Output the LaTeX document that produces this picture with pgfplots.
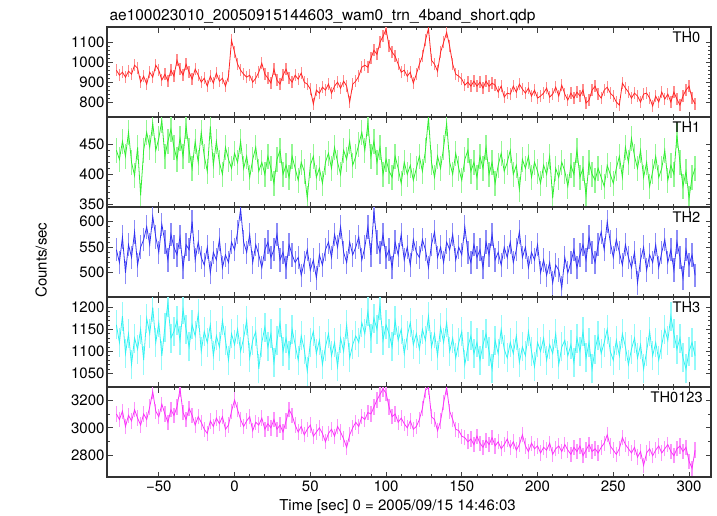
\documentclass[border=0pt]{standalone}
\usepackage{fontspec}
\setmainfont{TeX Gyre Heros}
\usepackage{pgfplots}
\usepackage{pgfplotstable}
\pgfplotsset{compat=1.18}
\definecolor{c0}{rgb}{1,0.15,0.15}
\definecolor{c1}{rgb}{0.2,0.93,0.2}
\definecolor{c2}{rgb}{0.2,0.2,0.95}
\definecolor{c3}{rgb}{0.2,0.95,0.95}
\definecolor{c4}{rgb}{0.98,0.2,0.98}
\definecolor{e0}{rgb}{1,0.55,0.55}
\definecolor{e1}{rgb}{0.58,0.97,0.58}
\definecolor{e2}{rgb}{0.55,0.55,0.97}
\definecolor{e3}{rgb}{0.58,0.98,0.98}
\definecolor{e4}{rgb}{0.99,0.58,0.99}
\newcommand\lab{\fontsize{15bp}{18bp}\selectfont}
\newcommand\thlab{\fontsize{14.6bp}{17bp}\selectfont}

\pgfplotstableread[row sep=\\]{t v\\
-78 960\\ -76 935\\ -74 950\\ -72 925\\ -70 955\\ -68 940\\ -66 985\\ -64 970\\ -62 900\\ -60 930\\
-58 890\\ -56 950\\ -54 925\\ -52 985\\ -50 960\\ -48 910\\ -46 940\\ -44 905\\ -42 960\\ -40 930\\
-38 1010\\ -36 965\\ -34 935\\ -32 990\\ -30 950\\ -28 915\\ -26 965\\ -24 935\\ -22 900\\ -20 920\\
-18 880\\ -16 930\\ -14 895\\ -12 945\\ -10 905\\ -8 920\\ -6 880\\ -4 930\\ -2 1110\\ 0 1050\\
2 990\\ 4 960\\ 6 940\\ 8 925\\ 10 935\\ 12 900\\ 14 920\\ 16 950\\ 18 995\\ 20 940\\
22 920\\ 24 895\\ 26 965\\ 28 910\\ 30 890\\ 32 935\\ 34 965\\ 36 920\\ 38 900\\ 40 935\\
42 915\\ 44 945\\ 46 900\\ 48 890\\ 50 865\\ 52 790\\ 54 860\\ 56 845\\ 58 875\\ 60 860\\
62 890\\ 64 845\\ 66 880\\ 68 900\\ 70 870\\ 72 905\\ 74 880\\ 76 800\\ 78 890\\ 80 905\\
82 930\\ 84 975\\ 86 985\\ 88 975\\ 90 1020\\ 92 1060\\ 94 1040\\ 96 1100\\ 98 1130\\ 100 1165\\
102 1080\\ 104 1050\\ 106 1030\\ 108 990\\ 110 950\\ 112 960\\ 114 930\\ 116 950\\ 118 895\\ 120 940\\
122 990\\ 124 1030\\ 126 1110\\ 128 1170\\ 130 1010\\ 132 990\\ 134 955\\ 136 1050\\ 138 1100\\ 140 1150\\
142 1080\\ 144 990\\ 146 940\\ 148 930\\ 150 915\\ 152 885\\ 154 900\\ 156 880\\ 158 905\\ 160 880\\
162 900\\ 164 870\\ 166 905\\ 168 880\\ 170 895\\ 172 885\\ 174 850\\ 176 880\\ 178 825\\ 180 845\\
182 840\\ 184 880\\ 186 850\\ 188 890\\ 190 865\\ 192 845\\ 194 870\\ 196 830\\ 198 860\\ 200 820\\
202 830\\ 204 845\\ 206 870\\ 208 825\\ 210 840\\ 212 875\\ 214 830\\ 216 885\\ 218 840\\ 220 810\\
222 845\\ 224 820\\ 226 850\\ 228 830\\ 230 860\\ 232 795\\ 234 810\\ 236 860\\ 238 880\\ 240 840\\
242 820\\ 244 860\\ 246 875\\ 248 845\\ 250 830\\ 252 800\\ 254 785\\ 256 895\\ 258 870\\ 260 850\\
262 820\\ 264 845\\ 266 830\\ 268 800\\ 270 840\\ 272 845\\ 274 820\\ 276 780\\ 278 830\\ 280 800\\
282 850\\ 284 815\\ 286 840\\ 288 800\\ 290 850\\ 292 815\\ 294 785\\ 296 830\\ 298 860\\ 300 880\\
302 820\\ 304 790\\
}\tA

\pgfplotstableread[row sep=\\]{t v\\
-78 440\\ -76 425\\ -74 455\\ -72 430\\ -70 470\\ -68 420\\ -66 398\\ -64 445\\ -62 365\\ -60 440\\
-58 470\\ -56 445\\ -54 485\\ -52 440\\ -50 460\\ -48 490\\ -46 430\\ -44 455\\ -42 475\\ -40 445\\
-38 425\\ -36 460\\ -34 430\\ -32 480\\ -30 440\\ -28 410\\ -26 455\\ -24 420\\ -22 470\\ -20 430\\
-18 405\\ -16 480\\ -14 415\\ -12 455\\ -10 420\\ -8 400\\ -6 445\\ -4 425\\ -2 410\\ 0 435\\
2 420\\ 4 455\\ 6 410\\ 8 430\\ 10 395\\ 12 425\\ 14 445\\ 16 405\\ 18 420\\ 20 400\\
22 430\\ 24 410\\ 26 385\\ 28 425\\ 30 440\\ 32 400\\ 34 415\\ 36 395\\ 38 430\\ 40 410\\
42 390\\ 44 420\\ 46 405\\ 48 360\\ 50 415\\ 52 430\\ 54 395\\ 56 410\\ 58 385\\ 60 420\\
62 435\\ 64 410\\ 66 445\\ 68 420\\ 70 400\\ 72 440\\ 74 425\\ 76 455\\ 78 415\\ 80 430\\
82 450\\ 84 470\\ 86 440\\ 88 485\\ 90 430\\ 92 455\\ 94 420\\ 96 445\\ 98 400\\ 100 425\\
102 405\\ 104 395\\ 106 430\\ 108 410\\ 110 385\\ 112 420\\ 114 400\\ 116 415\\ 118 390\\ 120 410\\
122 430\\ 124 405\\ 126 440\\ 128 495\\ 130 420\\ 132 395\\ 134 430\\ 136 410\\ 138 445\\ 140 485\\
142 420\\ 144 400\\ 146 435\\ 148 410\\ 150 390\\ 152 425\\ 154 440\\ 156 405\\ 158 420\\ 160 395\\
162 430\\ 164 410\\ 166 445\\ 168 400\\ 170 420\\ 172 385\\ 174 415\\ 176 435\\ 178 405\\ 180 420\\
182 440\\ 184 400\\ 186 415\\ 188 375\\ 190 425\\ 192 410\\ 194 430\\ 196 395\\ 198 420\\ 200 405\\
202 385\\ 204 415\\ 206 400\\ 208 430\\ 210 360\\ 212 410\\ 214 395\\ 216 420\\ 218 405\\ 220 380\\
222 415\\ 224 400\\ 226 440\\ 228 395\\ 230 410\\ 232 365\\ 234 420\\ 236 400\\ 238 390\\ 240 410\\
242 395\\ 244 380\\ 246 415\\ 248 400\\ 250 385\\ 252 410\\ 254 430\\ 256 395\\ 258 445\\ 260 420\\
262 460\\ 264 430\\ 266 410\\ 268 440\\ 270 395\\ 272 420\\ 274 380\\ 276 405\\ 278 430\\ 280 395\\
282 410\\ 284 440\\ 286 390\\ 288 415\\ 290 400\\ 292 465\\ 294 420\\ 296 380\\ 298 405\\ 300 360\\
302 395\\ 304 410\\
}\tB

\pgfplotstableread[row sep=\\]{t v\\
-78 545\\ -76 520\\ -74 570\\ -72 500\\ -70 555\\ -68 530\\ -66 580\\ -64 515\\ -62 550\\ -60 565\\
-58 590\\ -56 555\\ -54 610\\ -52 570\\ -50 540\\ -48 595\\ -46 560\\ -44 525\\ -42 575\\ -40 550\\
-38 535\\ -36 570\\ -34 510\\ -32 555\\ -30 545\\ -28 600\\ -26 525\\ -24 560\\ -22 530\\ -20 515\\
-18 550\\ -16 500\\ -14 540\\ -12 525\\ -10 565\\ -8 510\\ -6 535\\ -4 520\\ -2 560\\ 0 545\\
2 580\\ 4 625\\ 6 560\\ 8 540\\ 10 575\\ 12 520\\ 14 555\\ 16 535\\ 18 510\\ 20 545\\
22 560\\ 24 530\\ 26 545\\ 28 575\\ 30 525\\ 32 540\\ 34 510\\ 36 555\\ 38 535\\ 40 520\\
42 530\\ 44 495\\ 46 520\\ 48 545\\ 50 505\\ 52 525\\ 54 490\\ 56 535\\ 58 515\\ 60 545\\
62 560\\ 64 530\\ 66 575\\ 68 550\\ 70 590\\ 72 540\\ 74 520\\ 76 560\\ 78 535\\ 80 550\\
82 570\\ 84 525\\ 86 550\\ 88 590\\ 90 535\\ 92 620\\ 94 560\\ 96 540\\ 98 575\\ 100 530\\
102 545\\ 104 510\\ 106 560\\ 108 535\\ 110 575\\ 112 525\\ 114 550\\ 116 515\\ 118 565\\ 120 540\\
122 530\\ 124 565\\ 126 545\\ 128 510\\ 130 555\\ 132 580\\ 134 530\\ 136 550\\ 138 520\\ 140 560\\
142 545\\ 144 575\\ 146 525\\ 148 550\\ 150 535\\ 152 590\\ 154 540\\ 156 520\\ 158 555\\ 160 530\\
162 545\\ 164 510\\ 166 560\\ 168 535\\ 170 575\\ 172 525\\ 174 540\\ 176 515\\ 178 550\\ 180 530\\
182 560\\ 184 520\\ 186 545\\ 188 580\\ 190 530\\ 192 550\\ 194 510\\ 196 540\\ 198 525\\ 200 555\\
202 500\\ 204 525\\ 206 495\\ 208 520\\ 210 480\\ 212 515\\ 214 505\\ 216 470\\ 218 530\\ 220 500\\
222 520\\ 224 545\\ 226 510\\ 228 535\\ 230 555\\ 232 525\\ 234 570\\ 236 540\\ 238 520\\ 240 555\\
242 580\\ 244 545\\ 246 600\\ 248 560\\ 250 530\\ 252 565\\ 254 540\\ 256 515\\ 258 555\\ 260 530\\
262 510\\ 264 540\\ 266 480\\ 268 525\\ 270 550\\ 272 505\\ 274 535\\ 276 520\\ 278 555\\ 280 510\\
282 540\\ 284 565\\ 286 520\\ 288 545\\ 290 505\\ 292 560\\ 294 530\\ 296 490\\ 298 545\\ 300 515\\
302 535\\ 304 495\\
}\tC

\pgfplotstableread[row sep=\\]{t v\\
-78 1160\\ -76 1120\\ -74 1180\\ -72 1095\\ -70 1140\\ -68 1070\\ -66 1130\\ -64 1105\\ -62 1150\\ -60 1080\\
-58 1175\\ -56 1140\\ -54 1200\\ -52 1120\\ -50 1165\\ -48 1090\\ -46 1155\\ -44 1210\\ -42 1130\\ -40 1145\\
-38 1170\\ -36 1125\\ -34 1195\\ -32 1150\\ -30 1110\\ -28 1160\\ -26 1135\\ -24 1185\\ -22 1100\\ -20 1145\\
-18 1120\\ -16 1160\\ -14 1090\\ -12 1135\\ -10 1110\\ -8 1170\\ -6 1125\\ -4 1080\\ -2 1140\\ 0 1115\\
2 1150\\ 4 1100\\ 6 1130\\ 8 1170\\ 10 1085\\ 12 1125\\ 14 1145\\ 16 1060\\ 18 1120\\ 20 1155\\
22 1110\\ 24 1140\\ 26 1075\\ 28 1125\\ 30 1165\\ 32 1100\\ 34 1130\\ 36 1090\\ 38 1150\\ 40 1115\\
42 1080\\ 44 1135\\ 46 1105\\ 48 1055\\ 50 1120\\ 52 1145\\ 54 1095\\ 56 1125\\ 58 1070\\ 60 1110\\
62 1140\\ 64 1090\\ 66 1120\\ 68 1065\\ 70 1130\\ 72 1100\\ 74 1160\\ 76 1085\\ 78 1115\\ 80 1135\\
82 1120\\ 84 1165\\ 86 1140\\ 88 1190\\ 90 1130\\ 92 1175\\ 94 1150\\ 96 1205\\ 98 1125\\ 100 1160\\
102 1140\\ 104 1110\\ 106 1170\\ 108 1125\\ 110 1150\\ 112 1095\\ 114 1135\\ 116 1165\\ 118 1115\\ 120 1140\\
122 1105\\ 124 1150\\ 126 1125\\ 128 1180\\ 130 1110\\ 132 1140\\ 134 1090\\ 136 1155\\ 138 1120\\ 140 1165\\
142 1100\\ 144 1130\\ 146 1085\\ 148 1120\\ 150 1145\\ 152 1070\\ 154 1110\\ 156 1135\\ 158 1095\\ 160 1120\\
162 1080\\ 164 1115\\ 166 1140\\ 168 1100\\ 170 1060\\ 172 1125\\ 174 1095\\ 176 1150\\ 178 1105\\ 180 1085\\
182 1120\\ 184 1095\\ 186 1135\\ 188 1075\\ 190 1110\\ 192 1090\\ 194 1145\\ 196 1100\\ 198 1065\\ 200 1120\\
202 1100\\ 204 1130\\ 206 1080\\ 208 1115\\ 210 1095\\ 212 1140\\ 214 1070\\ 216 1110\\ 218 1125\\ 220 1090\\
222 1115\\ 224 1075\\ 226 1130\\ 228 1100\\ 230 1145\\ 232 1085\\ 234 1120\\ 236 1060\\ 238 1105\\ 240 1135\\
242 1095\\ 244 1120\\ 246 1150\\ 248 1100\\ 250 1080\\ 252 1125\\ 254 1090\\ 256 1140\\ 258 1110\\ 260 1070\\
262 1105\\ 264 1130\\ 266 1085\\ 268 1115\\ 270 1060\\ 272 1100\\ 274 1145\\ 276 1090\\ 278 1120\\ 280 1080\\
282 1115\\ 284 1150\\ 286 1125\\ 288 1180\\ 290 1140\\ 292 1105\\ 294 1130\\ 296 1085\\ 298 1060\\ 300 1100\\
302 1120\\ 304 1090\\
}\tD

\pgfplotstableread[row sep=\\]{t v\\
-78 3100\\ -76 3060\\ -74 3120\\ -72 3010\\ -70 3090\\ -68 3050\\ -66 3130\\ -64 3070\\ -62 3020\\ -60 3100\\
-58 3060\\ -56 3150\\ -54 3260\\ -52 3120\\ -50 3080\\ -48 3170\\ -46 3100\\ -44 3040\\ -42 3130\\ -40 3090\\
-38 3150\\ -36 3280\\ -34 3110\\ -32 3060\\ -30 3140\\ -28 3090\\ -26 3020\\ -24 3080\\ -22 3040\\ -20 2990\\
-18 2960\\ -16 3050\\ -14 3010\\ -12 3070\\ -10 3030\\ -8 3080\\ -6 2990\\ -4 3020\\ -2 3120\\ 0 3200\\
2 3130\\ 4 3060\\ 6 3010\\ 8 3050\\ 10 3080\\ 12 2980\\ 14 3040\\ 16 3020\\ 18 3070\\ 20 2990\\
22 3030\\ 24 3000\\ 26 3060\\ 28 2990\\ 30 3020\\ 32 2970\\ 34 3050\\ 36 3130\\ 38 3090\\ 40 3020\\
42 2970\\ 44 3010\\ 46 2950\\ 48 2990\\ 50 3020\\ 52 2940\\ 54 2970\\ 56 3000\\ 58 2960\\ 60 2900\\
62 2960\\ 64 2990\\ 66 2940\\ 68 3010\\ 70 2970\\ 72 2920\\ 74 2860\\ 76 2950\\ 78 3000\\ 80 3040\\
82 3010\\ 84 3080\\ 86 3060\\ 88 3110\\ 90 3100\\ 92 3150\\ 94 3200\\ 96 3240\\ 98 3280\\ 100 3250\\
102 3150\\ 104 3080\\ 106 3100\\ 108 3040\\ 110 3070\\ 112 3030\\ 114 3000\\ 116 3050\\ 118 2990\\ 120 3010\\
122 3060\\ 124 3140\\ 126 3270\\ 128 3290\\ 130 3080\\ 132 3060\\ 134 2980\\ 136 3050\\ 138 3180\\ 140 3290\\
142 3120\\ 144 3060\\ 146 2990\\ 148 2980\\ 150 2940\\ 152 2930\\ 154 2900\\ 156 2920\\ 158 2880\\ 160 2940\\
162 2890\\ 164 2860\\ 166 2910\\ 168 2880\\ 170 2930\\ 172 2870\\ 174 2900\\ 176 2850\\ 178 2880\\ 180 2920\\
182 2860\\ 184 2900\\ 186 2840\\ 188 2880\\ 190 2950\\ 192 2870\\ 194 2830\\ 196 2890\\ 198 2850\\ 200 2870\\
202 2820\\ 204 2860\\ 206 2840\\ 208 2890\\ 210 2810\\ 212 2850\\ 214 2870\\ 216 2830\\ 218 2880\\ 220 2840\\
222 2810\\ 224 2860\\ 226 2830\\ 228 2870\\ 230 2800\\ 232 2840\\ 234 2880\\ 236 2830\\ 238 2850\\ 240 2820\\
242 2860\\ 244 2890\\ 246 2950\\ 248 2870\\ 250 2840\\ 252 2810\\ 254 2850\\ 256 2930\\ 258 2880\\ 260 2850\\
262 2820\\ 264 2860\\ 266 2790\\ 268 2830\\ 270 2730\\ 272 2820\\ 274 2850\\ 276 2800\\ 278 2840\\ 280 2870\\
282 2820\\ 284 2850\\ 286 2880\\ 288 2830\\ 290 2800\\ 292 2850\\ 294 2870\\ 296 2830\\ 298 2860\\ 300 2760\\
302 2710\\ 304 2840\\
}\tE

\pgfplotsset{panel/.style={
  scale only axis, width=604bp, height=90bp, anchor=north west,
  xmin=-84.2, xmax=314.5,
  xtick={-50,0,50,100,150,200,250,300}, minor x tick num=4,
  xticklabels={},
  tick align=inside,
  major tick length=5.5bp, minor tick length=3bp,
  tick style={line width=0.8bp, color=black!75},
  axis line style={line width=1.1bp, color=black!80},
  /pgf/number format/assume math mode=true,
  /pgf/number format/1000 sep={},
  tick label style={font=\lab},
  yticklabel style={xshift=1bp},
}}
\pgfplotsset{errq/.style 2 args={#2, line width=1.3pt, mark=none, forget plot, quiver={u=0, v=2*#1}}}
\tikzset{thnode/.style={anchor=base east, font=\thlab, yshift=-15bp}}

\begin{document}
\begin{tikzpicture}
\useasboundingbox (0,0) rectangle (717bp,-516bp);
\node[anchor=base west, font=\fontsize{15.5bp}{18bp}\selectfont] at (106bp,-20.5bp) {ae100023010\_20050915144603\_wam0\_trn\_4band\_short.qdp};

\begin{axis}[panel, at={(107bp,-27bp)}, ymin=725, ymax=1177, ytick={800,900,1000,1100}, minor y tick num=4]
\addplot[errq={30}{e0}] table[x=t, y expr=\thisrow{v}-30]{\tA};
\addplot[c0, line width=0.8pt, mark=none] table[x=t,y=v]{\tA};
\node[thnode] at (axis description cs:0.988,1) {TH0};
\end{axis}

\begin{axis}[panel, at={(107bp,-117bp)}, ymin=345.5, ymax=495.5, ytick={350,400,450}, minor y tick num=4]
\addplot[errq={21}{e1}] table[x=t, y expr=\thisrow{v}-21]{\tB};
\addplot[c1, line width=0.8pt, mark=none] table[x=t,y=v]{\tB};
\node[thnode] at (axis description cs:0.988,1) {TH1};
\end{axis}

\begin{axis}[panel, at={(107bp,-207bp)}, ymin=452.4, ymax=628.8, ytick={500,550,600}, minor y tick num=4,
  ylabel={Counts/sec}, ylabel style={at={(axis description cs:-0.109,0.41)}, anchor=center, font=\lab}]
\addplot[errq={23}{e2}] table[x=t, y expr=\thisrow{v}-23]{\tC};
\addplot[c2, line width=0.8pt, mark=none] table[x=t,y=v]{\tC};
\node[thnode] at (axis description cs:0.988,1) {TH2};
\end{axis}

\begin{axis}[panel, at={(107bp,-297bp)}, ymin=1019, ymax=1223.4, ytick={1050,1100,1150,1200}, minor y tick num=4]
\addplot[errq={33}{e3}] table[x=t, y expr=\thisrow{v}-33]{\tD};
\addplot[c3, line width=0.8pt, mark=none] table[x=t,y=v]{\tD};
\node[thnode] at (axis description cs:0.988,1) {TH3};
\end{axis}

\begin{axis}[panel, at={(107bp,-387bp)}, ymin=2647, ymax=3293.5, ytick={2800,3000,3200}, minor y tick num=1,
  xticklabels={−50,0,50,100,150,200,250,300},
  xlabel={Time [sec] 0 = 2005/09/15 14:46:03},
  xlabel style={at={(axis description cs:0.481,-0.333)}, anchor=center, font=\lab}]
\addplot[errq={55}{e4}] table[x=t, y expr=\thisrow{v}-55]{\tE};
\addplot[c4, line width=0.8pt, mark=none] table[x=t,y=v]{\tE};
\node[thnode] at (axis description cs:0.992,1) {TH0123};
\end{axis}
\end{tikzpicture}
\end{document}
